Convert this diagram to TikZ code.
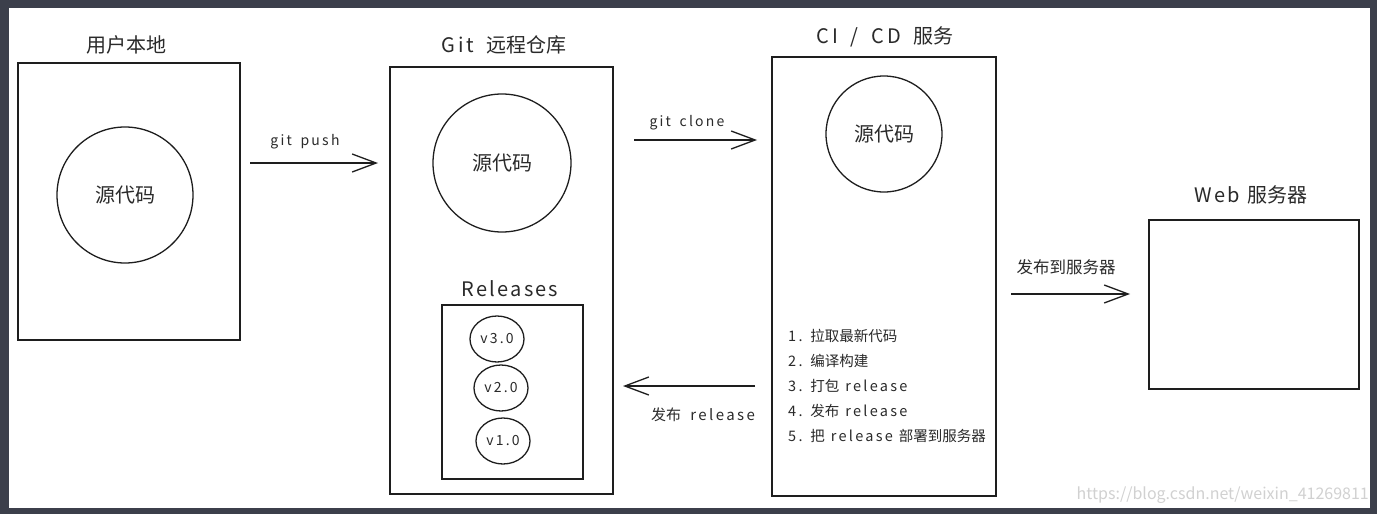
\documentclass[tikz,border=0pt]{standalone}
\usepackage{fontspec}
\setmainfont{Noto Sans CJK SC}
\newfontfamily\hw{Noto Sans CJK SC}[LetterSpace=16,WordSpace=1.6]
\newfontfamily\hwl{Noto Sans CJK SC}[LetterSpace=15.5,WordSpace=1.1]
\newfontfamily\hwt{Noto Sans CJK SC}[LetterSpace=11,WordSpace=1.2]
\usetikzlibrary{arrows.meta,shapes.geometric}
\definecolor{frame}{HTML}{3C3F4B}
\definecolor{ink}{HTML}{1E1E1E}
\definecolor{txt}{HTML}{2A2A2A}
\tikzset{
  boxn/.style={draw=ink,line width=1.4pt,rectangle,inner sep=0pt},
  circn/.style={draw=ink,line width=1.3pt,circle,inner sep=0pt,font=\fontsize{20}{20}\selectfont,text=txt},
  vern/.style={draw=ink,line width=1.3pt,ellipse,inner sep=0pt,minimum width=54pt,minimum height=46pt,font=\fontsize{14}{14}\selectfont,text=txt},
  titlen/.style={font=\fontsize{20}{20}\selectfont,text=txt,inner sep=0pt},
  labn/.style={font=\fontsize{15}{15}\selectfont,text=txt,inner sep=0pt},
  listn/.style={font=\fontsize{14.5}{25}\selectfont,text=txt,inner sep=0pt,anchor=north west,align=left},
  arr/.style={draw=ink,line width=1.3pt,-{Straight Barb[length=24pt,width=18pt,line width=1.3pt]}},
}
\begin{document}
\begin{tikzpicture}[x=1pt,y=-1pt]
\useasboundingbox (0,0) rectangle (1377,514);
\fill[frame] (0,0) rectangle (1377,514);
\fill[white] (9,8) rectangle (1370,508);

% boxes
\node[boxn,minimum width=222pt,minimum height=277pt] (local) at (129,201.5) {};
\node[boxn,minimum width=223pt,minimum height=427pt] (git) at (501.5,280.5) {};
\node[boxn,minimum width=224pt,minimum height=439pt] (ci) at (884,276.5) {};
\node[boxn,minimum width=210pt,minimum height=169pt] (web) at (1254,304.5) {};
\node[boxn,line width=1.3pt,minimum width=141pt,minimum height=174pt] (rel) at (512.5,392) {};

% titles
\node[titlen] (tlocal) at (126,45) {用户本地};
\node[titlen] (tgit) at (504,45) {{\hw Git }远程仓库};
\node[titlen] (tci) at (885,37) {{\hw CI / CD }服务};
\node[titlen] (tweb) at (1251,195) {{\hwt Web }服务器};
\node[titlen] (trel) at (510,289) {{\hwt Releases}};

% circles
\node[circn,minimum size=136pt] (src1) at (125,195) {源代码};
\node[circn,minimum size=138pt] (src2) at (502,163) {源代码};
\node[circn,minimum size=116pt] (src3) at (884,134) {源代码};

\node[vern] (v3) at (497,339) {\hw v3.0};
\node[vern] (v2) at (501,388) {\hw v2.0};
\node[vern] (v1) at (503,441) {\hw v1.0};

% list
\node[listn] (list) at (788,329.5) {{\hwl 1. }拉取最新代码\\{\hwl 2. }编译构建\\{\hwl 3. }打包{\hwl{} release}\\{\hwl 4. }发布{\hwl{} release}\\{\hwl 5. }把{\hwl{} release }部署到服务器};

% arrows
\coordinate (p1s) at (250,163);
\coordinate (p1e) at (378,163);
\coordinate (p2s) at (634,140);
\coordinate (p2e) at (757,140);
\coordinate (p3s) at (755,386);
\coordinate (p3e) at (623,386);
\coordinate (p4s) at (1011,294);
\coordinate (p4e) at (1130,294);
\draw[arr] (p1s) -- (p1e);
\draw[arr] (p2s) -- (p2e);
\draw[arr] (p3s) -- (p3e);
\draw[arr] (p4s) -- (p4e);

\node[labn,font=\fontsize{14}{14}\selectfont] (lpush) at (305,142) {{\hw git push}};
\node[labn,font=\fontsize{14}{14}\selectfont] (lclone) at (687,123) {{\hw git clone}};
\node[labn] (lrel) at (703,415) {发布{\hw{} release}};
\node[labn,font=\fontsize{16.5}{16.5}\selectfont] (lweb) at (1066,267) {发布到服务器};

\node[inner sep=0pt,anchor=east,text=black!18,font=\fontsize{16}{16}\selectfont] (wm) at (1369,495) {https://blog.csdn.net/weixin\_41269811};
\end{tikzpicture}
\end{document}
